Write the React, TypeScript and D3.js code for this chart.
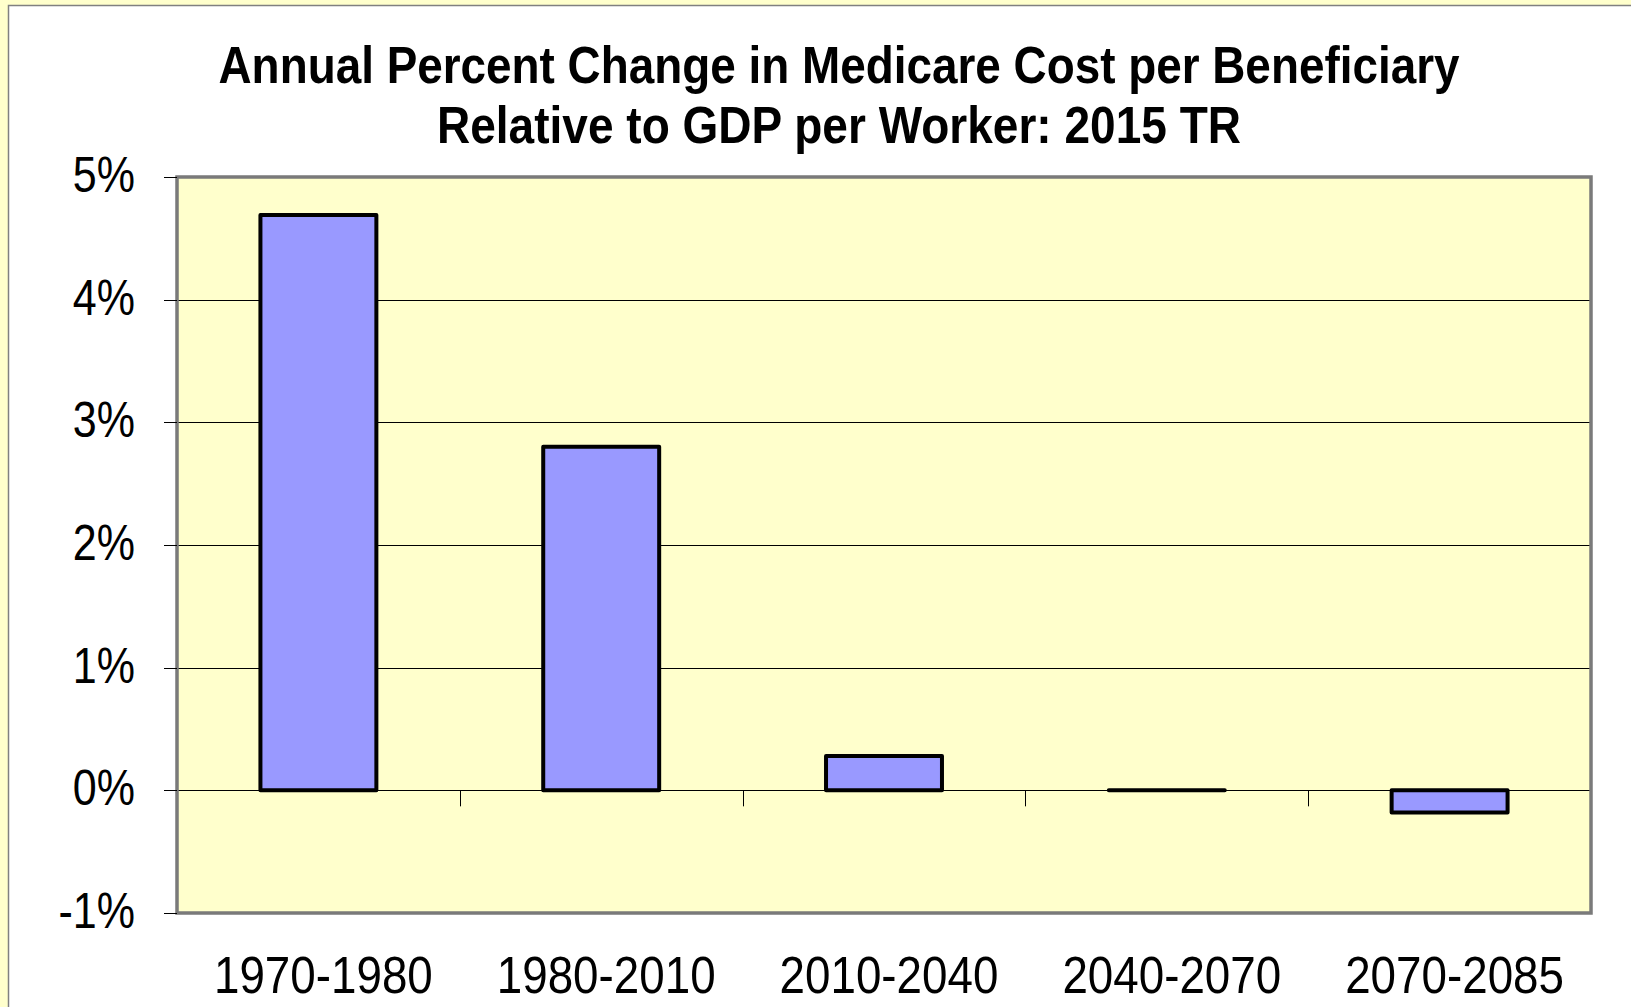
import React, { useRef, useEffect } from 'react';
import * as d3 from 'd3';

// data
const periods = ['1970-1980', '1980-2010', '2010-2040', '2040-2070', '2070-2085'];
const pctChange = [4.69, 2.8, 0.28, 0.0, -0.18];
const yTicks = [-1, 0, 1, 2, 3, 4, 5];
const titleLines = [
  'Annual Percent Change in Medicare Cost per Beneficiary',
  'Relative to GDP per Worker: 2015 TR',
];

export default function App() {
  const svgRef = useRef<SVGSVGElement>(null);
  const width = 1631;
  const height = 1007;

  useEffect(() => {
    const svg = d3.select(svgRef.current);
    svg.selectAll('*').remove();

    const font = '"Liberation Sans", Arial, sans-serif';
    const plot = { left: 177, top: 177, right: 1591, bottom: 913 };

    // page background + white panel
    svg.append('rect').attr('width', width).attr('height', height).attr('fill', '#FFFFCC');
    svg
      .append('rect')
      .attr('x', 8.5)
      .attr('y', 5.5)
      .attr('width', width + 10)
      .attr('height', height + 10)
      .attr('fill', '#fff')
      .attr('stroke', '#808080')
      .attr('stroke-width', 1.5);

    const x = d3.scaleBand<string>().domain(periods).range([plot.left, plot.right]).padding(0);
    const y = d3.scaleLinear().domain([-1, 5]).range([plot.bottom, plot.top]);
    const barW = x.bandwidth() * 0.41;

    // plot area
    svg
      .append('rect')
      .attr('x', plot.left)
      .attr('y', plot.top)
      .attr('width', plot.right - plot.left)
      .attr('height', plot.bottom - plot.top)
      .attr('fill', '#FFFFCC');

    // gridlines
    svg
      .append('g')
      .selectAll('line')
      .data(yTicks.filter(d => d > -1 && d < 5))
      .join('line')
      .attr('x1', plot.left)
      .attr('x2', plot.right)
      .attr('y1', d => Math.round(y(d)) + 0.5)
      .attr('y2', d => Math.round(y(d)) + 0.5)
      .attr('stroke', '#000')
      .attr('stroke-width', 1);

    // category tick marks hanging off the zero line
    svg
      .append('g')
      .selectAll('line')
      .data(periods.slice(1).map(p => x(p)!).concat([plot.right]))
      .join('line')
      .attr('x1', d => Math.round(d) + 0.5)
      .attr('x2', d => Math.round(d) + 0.5)
      .attr('y1', y(0))
      .attr('y2', y(0) + 16)
      .attr('stroke', '#000')
      .attr('stroke-width', 1);

    // bars (paths so a zero value still shows as a flat outline)
    svg
      .append('g')
      .selectAll('path')
      .data(periods.map((p, i) => ({ p, v: pctChange[i] })))
      .join('path')
      .attr('d', d => {
        const x0 = x(d.p)! + (x.bandwidth() - barW) / 2;
        const y0 = y(Math.max(0, d.v));
        const h = Math.abs(y(d.v) - y(0));
        return `M${x0},${y0}h${barW}v${h}h${-barW}Z`;
      })
      .attr('fill', '#9999FF')
      .attr('stroke', '#000')
      .attr('stroke-width', 4)
      .attr('stroke-linejoin', 'round')
      .attr('stroke-linecap', 'round');

    // plot border
    svg
      .append('rect')
      .attr('x', plot.left)
      .attr('y', plot.top)
      .attr('width', plot.right - plot.left)
      .attr('height', plot.bottom - plot.top)
      .attr('fill', 'none')
      .attr('stroke', '#7a7a7a')
      .attr('stroke-width', 3.5);

    // y axis ticks + labels
    const yg = svg.append('g');
    yg.selectAll('line')
      .data(yTicks)
      .join('line')
      .attr('x1', plot.left - 13)
      .attr('x2', plot.left)
      .attr('y1', d => Math.round(y(d)) + 0.5)
      .attr('y2', d => Math.round(y(d)) + 0.5)
      .attr('stroke', '#000')
      .attr('stroke-width', 1);

    const condense = (sel: d3.Selection<SVGTextElement, any, any, any>, ratio: number) => {
      sel.each(function () {
        const len = (this as SVGTextElement).getComputedTextLength();
        d3.select(this).attr('textLength', len * ratio).attr('lengthAdjust', 'spacingAndGlyphs');
      });
    };

    const yLabels = yg
      .selectAll('text')
      .data(yTicks)
      .join('text')
      .attr('x', 135)
      .attr('y', d => y(d))
      .attr('dy', '0.3em')
      .attr('text-anchor', 'end')
      .attr('font-family', font)
      .attr('font-size', 50)
      .attr('fill', '#000')
      .text(d => `${d}%`);
    condense(yLabels as any, 0.86);

    // x labels
    const xLabels = svg
      .append('g')
      .selectAll('text')
      .data(periods)
      .join('text')
      .attr('x', d => x(d)! + x.bandwidth() / 2 + 5)
      .attr('y', 993)
      .attr('text-anchor', 'middle')
      .attr('font-family', font)
      .attr('font-size', 52)
      .attr('fill', '#000')
      .text(d => d);
    condense(xLabels as any, 0.88);

    // title
    const titleWidths = [1241, 804];
    svg
      .append('g')
      .selectAll('text')
      .data(titleLines)
      .join('text')
      .attr('x', 839)
      .attr('y', (_, i) => 83 + i * 60)
      .attr('text-anchor', 'middle')
      .attr('font-family', font)
      .attr('font-weight', 'bold')
      .attr('font-size', 52)
      .attr('fill', '#000')
      .attr('textLength', (_, i) => titleWidths[i])
      .attr('lengthAdjust', 'spacingAndGlyphs')
      .text(d => d);
  }, []);

  return (
    <svg
      ref={svgRef}
      width={width}
      height={height}
      style={{ position: 'absolute', left: 0, top: 0, display: 'block' }}
    />
  );
}
